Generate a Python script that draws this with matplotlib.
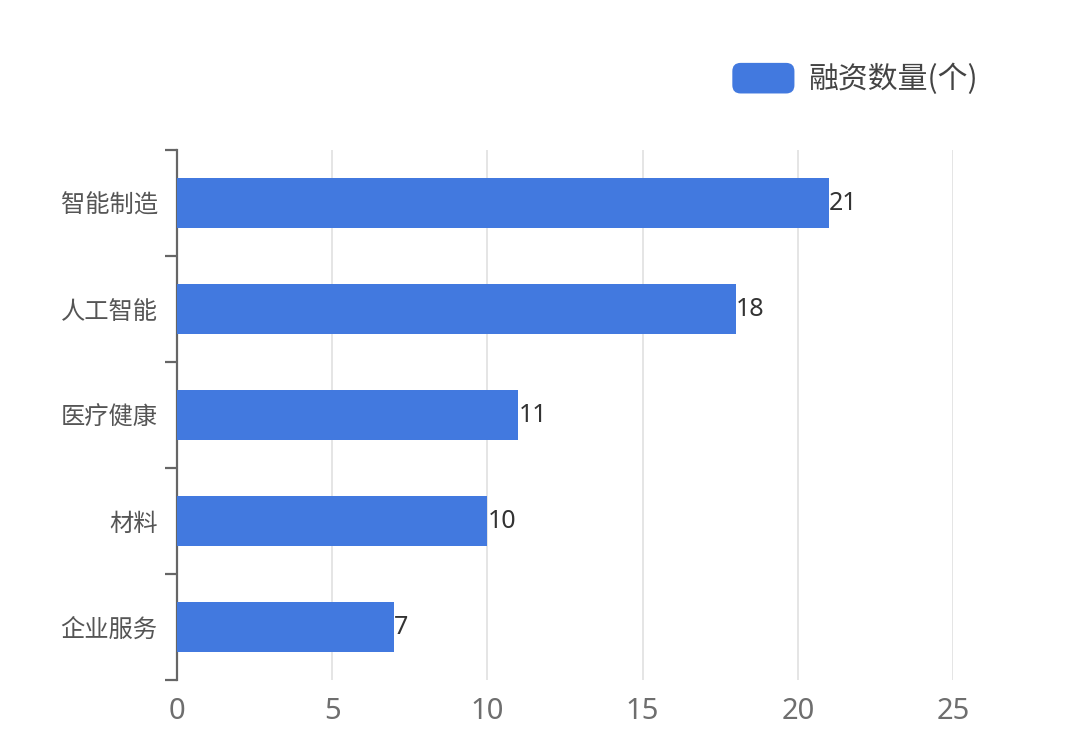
import matplotlib
matplotlib.use('Agg')
import matplotlib.pyplot as plt
import numpy as np
from matplotlib.patches import FancyBboxPatch, Patch
from matplotlib.legend_handler import HandlerPatch

plt.rcParams['font.family'] = ['Noto Sans CJK SC', 'DejaVu Sans']
num_font = ['Noto Sans', 'DejaVu Sans']

# 数据
categories = ['智能制造', '人工智能', '医疗健康', '材料', '企业服务']
values = [21, 18, 11, 10, 7]
x_ticks = [0, 5, 10, 15, 20, 25]
series_name = '融资数量(个)'

bar_color = '#4279df'


# 圆角图例
class RoundHandler(HandlerPatch):
    def create_artists(self, legend, orig_handle, xdescent, ydescent,
                       width, height, fontsize, trans):
        p = FancyBboxPatch((-xdescent, -ydescent), width, height,
                           boxstyle='round,pad=0,rounding_size=6',
                           fc=bar_color, ec='none', transform=trans)
        return [p]


fig = plt.figure(figsize=(10.8, 7.53), dpi=100)
ax = fig.add_axes([0.1639, 0.0969, 0.7185, 0.7039])

y = np.arange(len(categories))
ax.barh(y, values, height=0.47, color=bar_color, zorder=3)

for yi, v in zip(y, values):
    ax.text(v, yi, str(v), va='center', ha='left', fontsize=18,
            color='#333333', family=num_font, zorder=4)

ax.set_xlim(0, 25)
ax.set_ylim(len(categories) - 0.5, -0.5)
ax.set_xticks(x_ticks)
ax.set_xticklabels([str(t) for t in x_ticks], fontsize=21, color='#6e6e6e',
                   family=num_font)
ax.tick_params(axis='x', length=0, pad=12)

ax.set_yticks(y)
ax.set_yticklabels(categories, fontsize=17.5, color='#555555')
ax.set_yticks(np.arange(len(categories) + 1) - 0.5, minor=True)
ax.tick_params(axis='y', which='major', length=0, pad=14)
ax.tick_params(axis='y', which='minor', length=9, width=1.6, color='#666666')

ax.grid(axis='x', color='#e0e0e0', linewidth=1.2, zorder=0)
ax.grid(axis='y', visible=False)
for s in ['top', 'right', 'bottom']:
    ax.spines[s].set_visible(False)
ax.spines['left'].set_color('#666666')
ax.spines['left'].set_linewidth(1.6)

ax.legend([Patch(color=bar_color)], [series_name],
          handler_map={Patch: RoundHandler()},
          loc='center', bbox_to_anchor=(0.792, 0.895),
          bbox_transform=fig.transFigure, frameon=False,
          prop={'size': 21.5, 'weight': 'medium'}, labelcolor='#444444',
          handlelength=2.08, handleheight=1.2, handletextpad=0.48)

fig.savefig('out.png', dpi=100, facecolor='white')
